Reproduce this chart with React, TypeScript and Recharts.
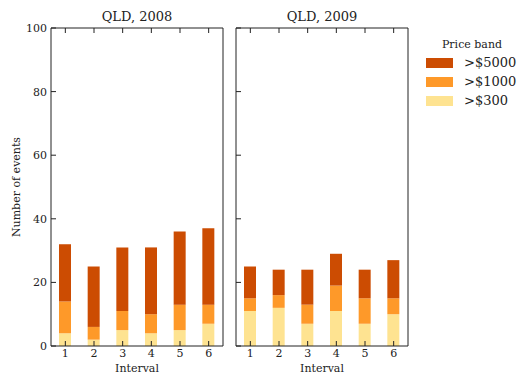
import { BarChart, Bar, XAxis, YAxis } from 'recharts'

const intervals = ['1', '2', '3', '4', '5', '6']
const bandNames = ['>$5000', '>$1000', '>$300']
const bandColors = ['#cc4c02', '#fe9929', '#fee391']

const over300_2008 = [4, 2, 5, 4, 5, 7]
const over1000_2008 = [10, 4, 6, 6, 8, 6]
const over5000_2008 = [18, 19, 20, 21, 23, 24]

const over300_2009 = [11, 12, 7, 11, 7, 10]
const over1000_2009 = [4, 4, 6, 8, 8, 5]
const over5000_2009 = [10, 8, 11, 10, 9, 12]

const yTicks = [0, 20, 40, 60, 80, 100]

const font = '"DejaVu Serif", serif'
const ink = '#222'

function rows(a: number[], b: number[], c: number[]) {
  return intervals.map((iv, i) => ({ interval: iv, p300: a[i], p1000: b[i], p5000: c[i] }))
}

function Panel({ data, left, width, yWidth, showY }: {
  data: ReturnType<typeof rows>; left: number; width: number; yWidth: number; showY: boolean
}) {
  const tickStyle = { fill: ink, fontSize: 11, fontFamily: font }
  return (
    <div style={{ position: 'absolute', left, top: 0 }}>
      <BarChart width={width} height={374} data={data}
        margin={{ top: 27, right: 0, left: 0, bottom: 0 }} barSize={12}>
        <XAxis dataKey="interval" height={28} stroke={ink} tickSize={-5} tickMargin={8}
          tick={tickStyle}
          label={{ value: 'Interval', position: 'insideBottom', offset: 2, fill: ink, fontSize: 11, fontFamily: font }} />
        <XAxis xAxisId="top" dataKey="interval" orientation="top" height={1} stroke={ink}
          tickSize={-5} tickFormatter={() => ''} />
        <YAxis domain={[0, 100]} ticks={yTicks} width={yWidth} stroke={ink} tickSize={-5}
          tickMargin={9} tick={tickStyle} tickFormatter={showY ? undefined : () => ''}
          label={showY ? { value: 'Number of events', angle: -90, position: 'insideLeft', offset: 16,
            style: { textAnchor: 'middle' }, fill: ink, fontSize: 11, fontFamily: font } : undefined} />
        <YAxis yAxisId="right" orientation="right" domain={[0, 100]} ticks={yTicks} width={1}
          stroke={ink} tickSize={-5} tickFormatter={() => ''} />
        <Bar dataKey="p300" stackId="a" fill={bandColors[2]} isAnimationActive={false} />
        <Bar dataKey="p1000" stackId="a" fill={bandColors[1]} isAnimationActive={false} />
        <Bar dataKey="p5000" stackId="a" fill={bandColors[0]} isAnimationActive={false} />
      </BarChart>
    </div>
  )
}

export default function App() {
  const titleStyle = { position: 'absolute' as const, top: 9, fontSize: 13, fontFamily: font, color: ink,
    textAlign: 'center' as const, width: 172, lineHeight: '16px' }
  return (
    <div style={{ position: 'absolute', left: 0, top: 0, width: 517, height: 374, background: '#fff' }}>
      <Panel data={rows(over300_2008, over1000_2008, over5000_2008)} left={0} width={224} yWidth={51} showY />
      <Panel data={rows(over300_2009, over1000_2009, over5000_2009)} left={235} width={174} yWidth={1} showY={false} />
      <div style={{ ...titleStyle, left: 51 }}>QLD, 2008</div>
      <div style={{ ...titleStyle, left: 236 }}>QLD, 2009</div>
      <div style={{ position: 'absolute', left: 426, top: 38, fontFamily: font, color: ink }}>
        <div style={{ fontSize: 11, lineHeight: '14px', width: 92, textAlign: 'center', marginBottom: 1 }}>Price band</div>
        {bandNames.map((name, i) => (
          <div key={name} style={{ display: 'flex', alignItems: 'center', height: 19 }}>
            <div style={{ width: 27, height: 10, background: bandColors[i], marginRight: 11 }} />
            <span style={{ fontSize: 13 }}>{name}</span>
          </div>
        ))}
      </div>
    </div>
  )
}
